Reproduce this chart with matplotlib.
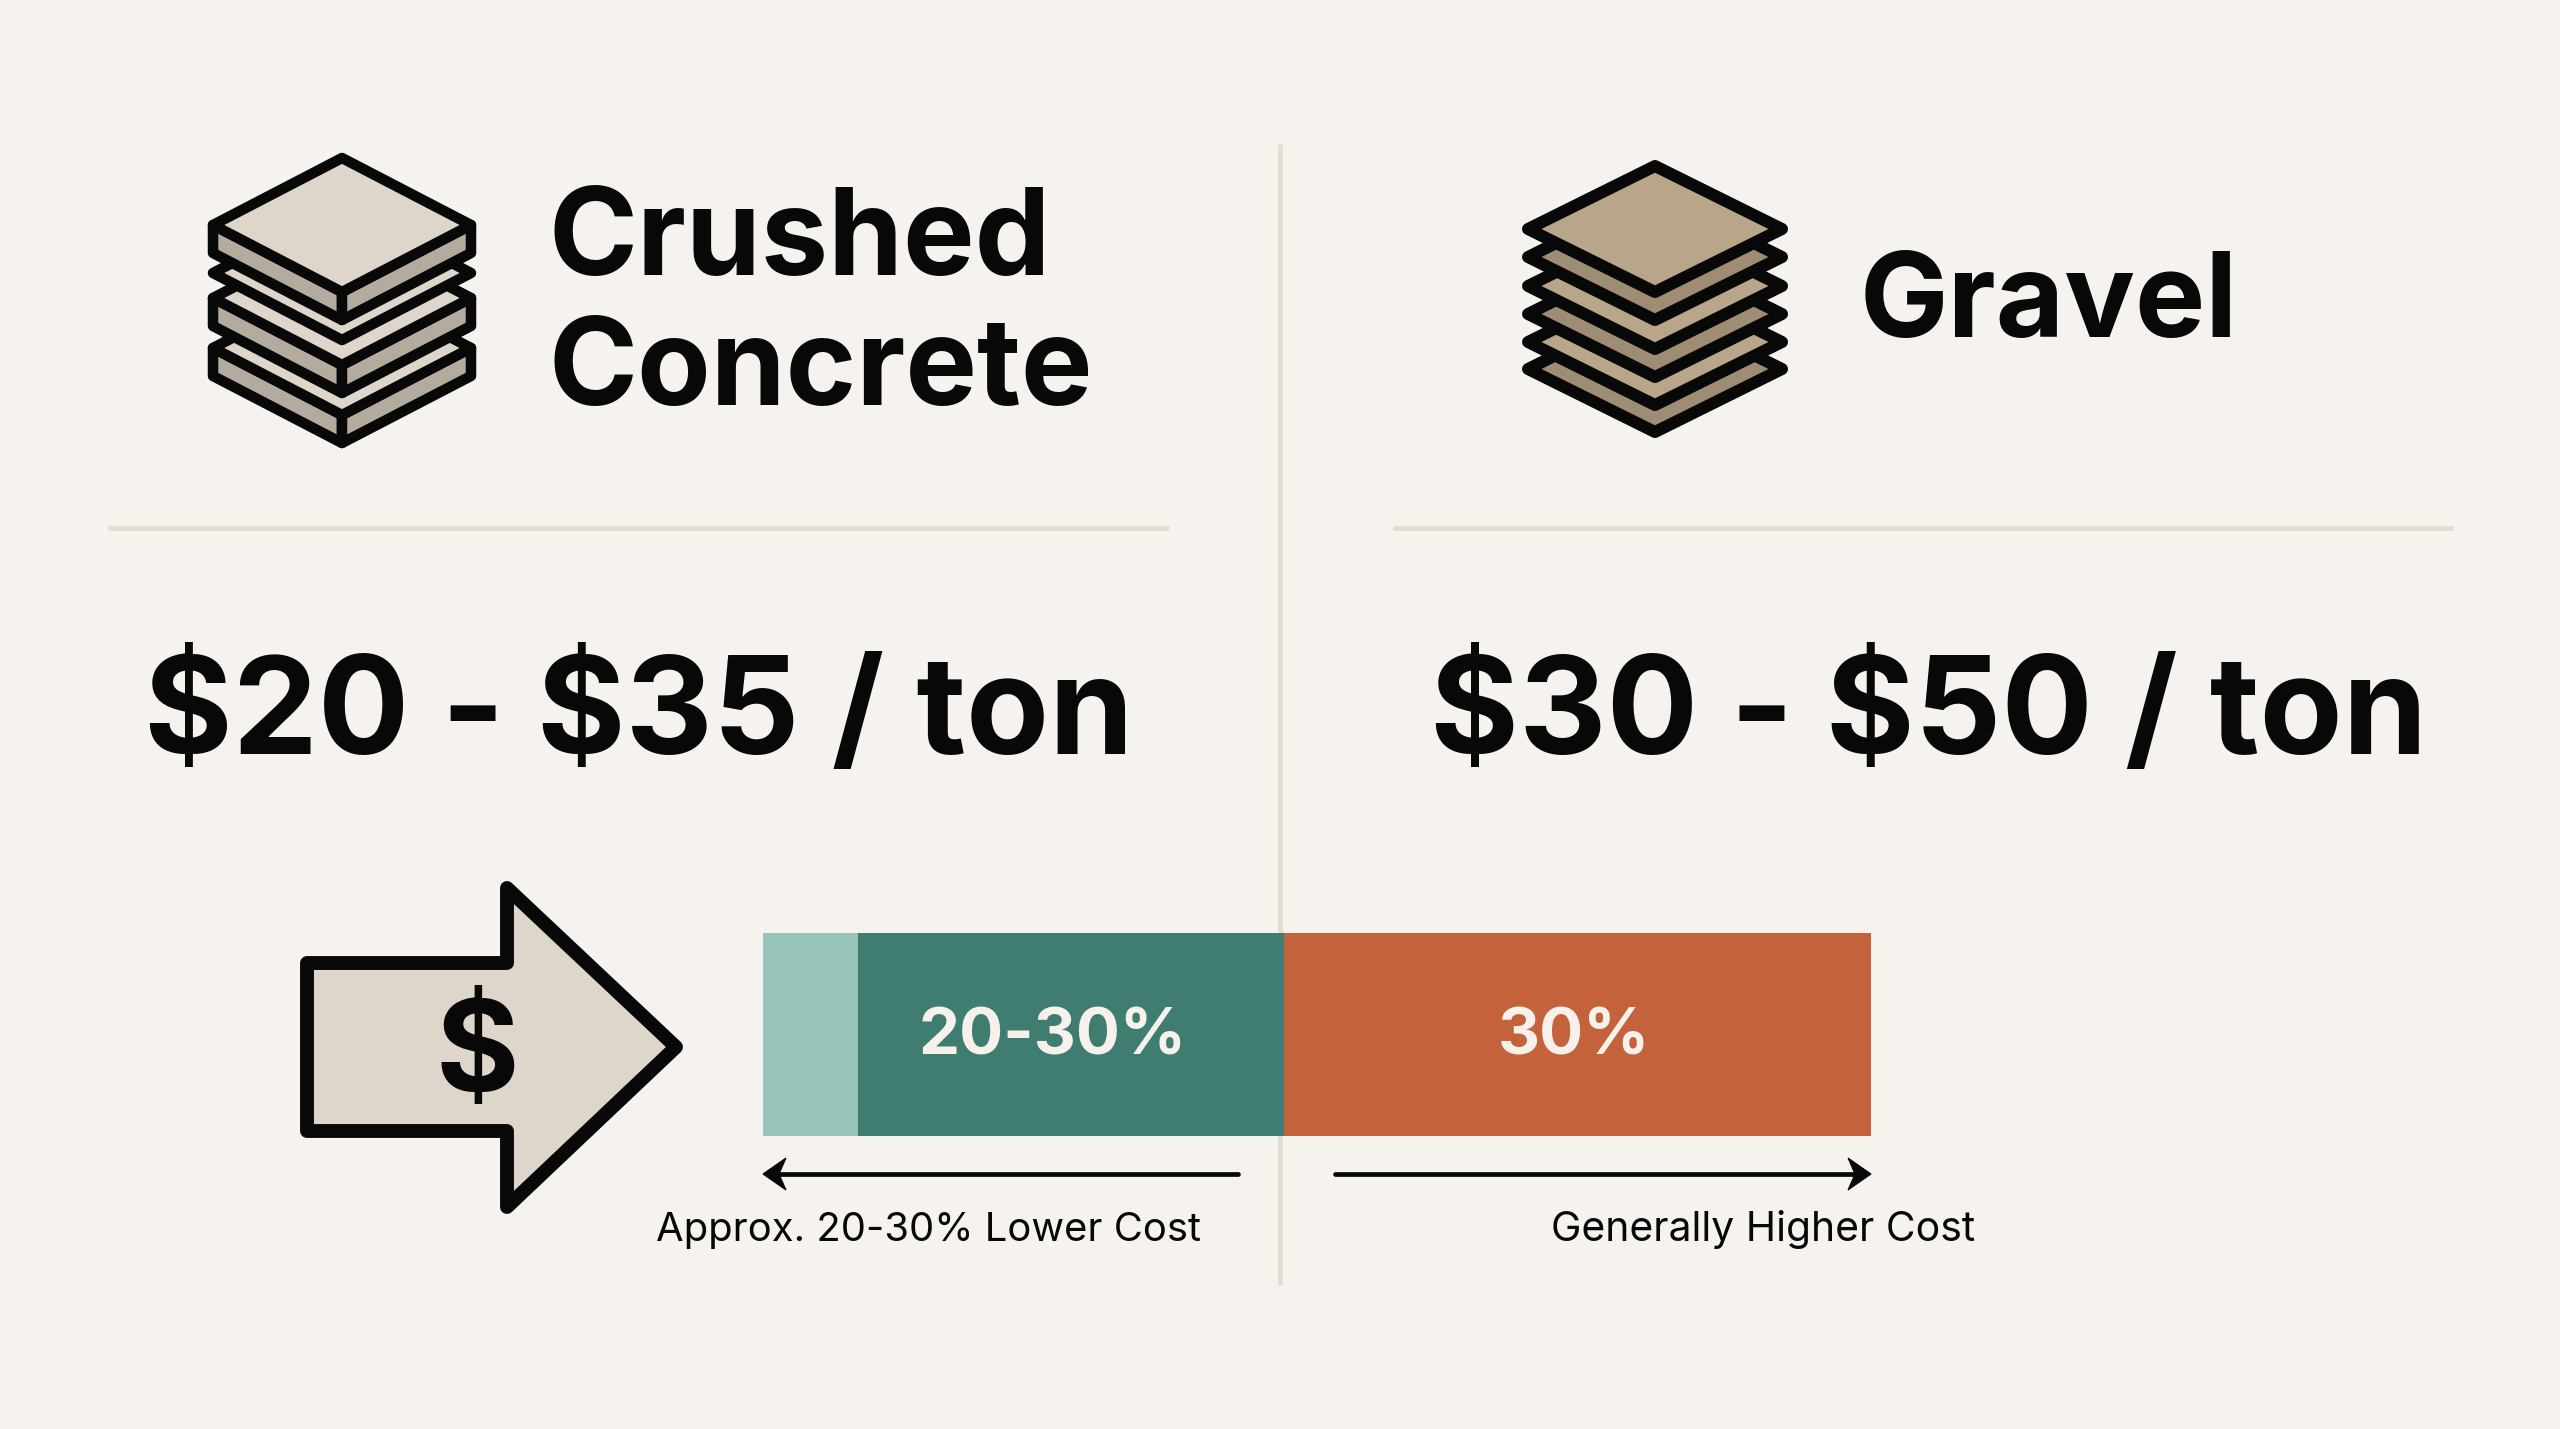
import matplotlib
matplotlib.use("Agg")
import matplotlib.pyplot as plt
from matplotlib.patches import Polygon

W, H = 2560, 1429

# chart content
materials = ["Crushed\nConcrete", "Gravel"]
prices = [r"\$20 - \$35 / ton", r"\$30 - \$50 / ton"]
bar_segments = [8.6, 38.4, 53.0]
bar_colors = ["#98C3BA", "#3F7D71", "#C4623C"]
bar_labels = ["", "20-30%", "30%"]
bar_label_pos = [0, 26.1, 73.2]
notes = ["Approx. 20-30% Lower Cost", "Generally Higher Cost"]

BG = "#F6F3EF"
RULE = "#E4DECF"
INK = "#080808"
FONT = "Inter"

plt.rcParams["font.family"] = [FONT, "DejaVu Sans"]

fig = plt.figure(figsize=(W / 100, H / 100), dpi=100, facecolor=BG)
# full figure axes, units are pixels of the picture
ax = fig.add_axes([0, 0, 1, 1])
ax.set_xlim(0, W)
ax.set_ylim(H, 0)
ax.axis("off")


def plate(cx, tip_y, hw, hh, thick, top_col, side_col, z, lw):
    # one layer of the stack icon, thick=0 gives a flat sheet
    if thick > 0:
        left = [(cx - hw, tip_y), (cx, tip_y + hh), (cx, tip_y + hh + thick), (cx - hw, tip_y + thick)]
        right = [(cx + hw, tip_y), (cx, tip_y + hh), (cx, tip_y + hh + thick), (cx + hw, tip_y + thick)]
        for pts in (left, right):
            ax.add_patch(Polygon(pts, closed=True, fc=side_col, ec=INK, lw=lw, joinstyle="round", zorder=z))
    top = [(cx, tip_y - hh), (cx + hw, tip_y), (cx, tip_y + hh), (cx - hw, tip_y)]
    ax.add_patch(Polygon(top, closed=True, fc=top_col, ec=INK, lw=lw, joinstyle="round", zorder=z + 0.1))


def cost_arrow(x0, x1, y):
    # thin line with a notched head pointing at x1
    d = 1 if x1 > x0 else -1
    ax.plot([x0, x1 - d * 14], [y, y], color=INK, lw=3.4, solid_capstyle="round", zorder=3)
    head = [(x1, y), (x1 - d * 23, y - 16), (x1 - d * 16, y), (x1 - d * 23, y + 16)]
    ax.add_patch(Polygon(head, closed=True, fc=INK, ec=INK, lw=0.8, zorder=3))


# concrete icon, bottom layer first
lw_concrete = 10.5 * 72 / 100
plate(342, 348, 129, 67, 28, "#DED6CA", "#B3AB9E", 3, lw_concrete)
plate(342, 298, 129, 67, 28, "#DED6CA", "#B3AB9E", 4, lw_concrete)
plate(342, 273, 129, 67, 0, "#DED6CA", "#B3AB9E", 5, lw_concrete)
plate(342, 225, 129, 67, 28, "#DED6CA", "#B3AB9E", 6, lw_concrete)

# gravel icon
lw_gravel = 12 * 72 / 100
gravel_tips = [369, 342, 314, 286, 257, 229]
gravel_cols = ["#9E8C74", "#B8A58A", "#9E8C74", "#B8A58A", "#9E8C74", "#B8A58A"]
for i in range(len(gravel_tips)):
    plate(1655, gravel_tips[i], 127, 63, 0, gravel_cols[i], gravel_cols[i], 3 + i, lw_gravel)

# separators
ax.plot([108, 1169], [528, 528], color=RULE, lw=3.6, solid_capstyle="butt", zorder=1)
ax.plot([1393, 2453], [528, 528], color=RULE, lw=3.6, solid_capstyle="butt", zorder=1)
ax.plot([1280, 1280], [144, 1285], color=RULE, lw=3.6, solid_capstyle="butt", zorder=1)

# headings and prices
ax.text(549, 275, materials[0].split("\n")[0], fontsize=86.6, fontweight="bold", color=INK, va="baseline")
ax.text(549, 405, materials[0].split("\n")[1], fontsize=86.6, fontweight="bold", color=INK, va="baseline")
ax.text(1860, 337, materials[1], fontsize=85, fontweight="bold", color=INK, va="baseline")
ax.text(144, 754, prices[0], fontsize=97.5, fontweight="bold", color=INK, va="baseline")
ax.text(1430, 754, prices[1], fontsize=97.7, fontweight="bold", color=INK, va="baseline")

# dollar arrow
dollar_arrow = [(307, 963), (507, 963), (507, 888), (676, 1047), (507, 1207), (507, 1131), (307, 1131)]
ax.add_patch(Polygon(dollar_arrow, closed=True, fc="#DED6CA", ec=INK, lw=10, joinstyle="round", zorder=3))
ax.text(477, 1057, r"\$", fontsize=92, fontweight="bold", color=INK, ha="center", va="center", zorder=4)

# cost arrows and notes
cost_arrow(1238, 763, 1174)
cost_arrow(1335, 1871, 1174)
ax.text(656, 1241, notes[0], fontsize=28.8, color=INK, va="baseline")
ax.text(1551, 1241, notes[1], fontsize=29.4, color=INK, va="baseline")

# stacked bar in its own axes
bar_ax = fig.add_axes([763 / W, 1 - 1136 / H, (1871 - 763) / W, (1136 - 933) / H], zorder=2)
bar_ax.set_xlim(0, sum(bar_segments))
bar_ax.set_ylim(0, 1)
bar_ax.axis("off")
left = 0
for i in range(len(bar_segments)):
    bar_ax.barh(0.5, bar_segments[i], height=1, left=left, color=bar_colors[i])
    left += bar_segments[i]
    if bar_labels[i]:
        bar_ax.text(bar_label_pos[i], 0.485, bar_labels[i], fontsize=47, fontweight="bold",
                    color="#F6F1EA", ha="center", va="center")

fig.savefig("out.png", dpi=100, facecolor=BG)
